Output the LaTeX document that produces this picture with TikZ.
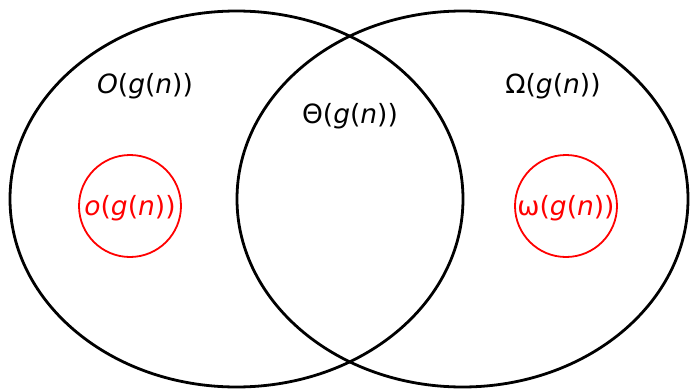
\documentclass[tikz,border=0pt]{standalone}
\usepackage{fontspec}
\setmainfont{DejaVu Sans}
\begin{document}
\begin{tikzpicture}[x=1pt,y=-1pt,
  bigset/.style={draw=black,line width=2.8pt},
  smallset/.style={draw=red,line width=1.8pt},
  lbl/.style={font=\fontsize{26.5}{30}\selectfont,inner sep=0pt},
  rlbl/.style={lbl,text=red}]
\useasboundingbox (0,0) rectangle (690,388);
\draw[bigset] (236.5,199) ellipse [x radius=226.5, y radius=188];
\draw[bigset] (462.5,199) ellipse [x radius=225.5, y radius=188];
\node[smallset,circle,minimum size=102pt,inner sep=0pt] (lo) at (130,206) {};
\node[smallset,circle,minimum size=102pt,inner sep=0pt] (lw) at (566,206) {};
\node[lbl] (bigO) at (145,86) {\itshape O\upshape(\itshape g\upshape(\itshape n\upshape))};
\node[lbl] (theta) at (350,116) {Θ(\itshape g\upshape(\itshape n\upshape))};
\node[lbl] (omega) at (553,86) {Ω(\itshape g\upshape(\itshape n\upshape))};
\node[rlbl] (smallo) at (130,208) {\itshape o\upshape(\itshape g\upshape(\itshape n\upshape))};
\node[rlbl] (smallw) at (566,208) {ω(\itshape g\upshape(\itshape n\upshape))};
\end{tikzpicture}
\end{document}
